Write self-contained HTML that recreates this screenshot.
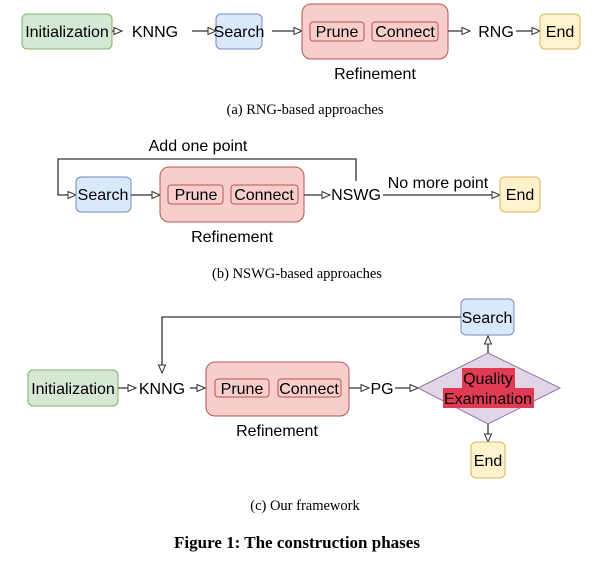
<!DOCTYPE html>
<html><head><meta charset="utf-8"><style>
html,body{margin:0;padding:0;background:#fff;}
svg{display:block;}
.t{font-family:"Liberation Sans",sans-serif;font-size:16px;fill:#000;}
.c{font-family:"Liberation Serif",serif;font-size:14.5px;fill:#000;}
.ln{stroke:#333;stroke-width:1.3;fill:none;}
</style></head><body>
<svg width="609" height="569" viewBox="0 0 609 569" xmlns="http://www.w3.org/2000/svg">
<defs>
<marker id="a" markerWidth="10" markerHeight="10" refX="9" refY="5" orient="auto" markerUnits="userSpaceOnUse">
<path d="M1,1.5 L9,5 L1,8.5 Z" fill="#fff" stroke="#333" stroke-width="1"/>
</marker>
</defs>
<!-- (a) -->
<rect x="22" y="14" width="90" height="35" rx="5" fill="#d5e8d4" stroke="#82b366"/>
<text class="t" x="67" y="37" text-anchor="middle">Initialization</text>
<line class="ln" x1="112" y1="31" x2="122" y2="31" marker-end="url(#a)"/>
<text class="t" x="155" y="37" text-anchor="middle">KNNG</text>
<line class="ln" x1="192" y1="31" x2="216" y2="31" marker-end="url(#a)"/>
<rect x="216" y="14" width="46" height="35" rx="5" fill="#dae8fc" stroke="#6c8ebf"/>
<text class="t" x="239" y="37" text-anchor="middle">Search</text>
<line class="ln" x1="272" y1="31" x2="302" y2="31" marker-end="url(#a)"/>
<rect x="302" y="4" width="146" height="55" rx="9" fill="#f8cecc" stroke="#b85450"/>
<rect x="310" y="22" width="54" height="19" rx="3" fill="#f8cecc" stroke="#b85450"/>
<text class="t" x="337" y="37" text-anchor="middle">Prune</text>
<rect x="372" y="22" width="66" height="19" rx="3" fill="#f8cecc" stroke="#b85450"/>
<text class="t" x="405" y="37" text-anchor="middle">Connect</text>
<line class="ln" x1="448" y1="31" x2="470" y2="31" marker-end="url(#a)"/>
<text class="t" x="496" y="37" text-anchor="middle">RNG</text>
<line class="ln" x1="516" y1="31" x2="540" y2="31" marker-end="url(#a)"/>
<rect x="540" y="14" width="40" height="35" rx="5" fill="#fff2cc" stroke="#d6b656"/>
<text class="t" x="560" y="37" text-anchor="middle">End</text>
<text class="t" x="375" y="79" text-anchor="middle">Refinement</text>
<text class="c" x="305" y="114" text-anchor="middle">(a)  RNG-based approaches</text>
<!-- (b) -->
<path class="ln" d="M356,181 L356,159 L58,159 L58,195 L76,195" marker-end="url(#a)"/>
<text class="t" x="198" y="151" text-anchor="middle">Add one point</text>
<rect x="76" y="177" width="55" height="35" rx="5" fill="#dae8fc" stroke="#6c8ebf"/>
<text class="t" x="103" y="200" text-anchor="middle">Search</text>
<line class="ln" x1="131" y1="195" x2="160" y2="195" marker-end="url(#a)"/>
<rect x="160" y="167" width="144" height="55" rx="9" fill="#f8cecc" stroke="#b85450"/>
<rect x="168" y="185" width="55" height="19" rx="3" fill="#f8cecc" stroke="#b85450"/>
<text class="t" x="196" y="200" text-anchor="middle">Prune</text>
<rect x="231" y="185" width="67" height="19" rx="3" fill="#f8cecc" stroke="#b85450"/>
<text class="t" x="264" y="200" text-anchor="middle">Connect</text>
<line class="ln" x1="304" y1="195" x2="330" y2="195" marker-end="url(#a)"/>
<text class="t" x="356" y="200" text-anchor="middle">NSWG</text>
<line class="ln" x1="383" y1="195" x2="500" y2="195" marker-end="url(#a)"/>
<text class="t" x="438" y="188" text-anchor="middle">No more point</text>
<rect x="500" y="177" width="40" height="35" rx="5" fill="#fff2cc" stroke="#d6b656"/>
<text class="t" x="520" y="200" text-anchor="middle">End</text>
<text class="t" x="232" y="242" text-anchor="middle">Refinement</text>
<text class="c" x="297" y="278" text-anchor="middle">(b)  NSWG-based approaches</text>
<!-- (c) -->
<path class="ln" d="M461,317 L162,317 L162,373" marker-end="url(#a)"/>
<rect x="461" y="299" width="53" height="36" rx="5" fill="#dae8fc" stroke="#6c8ebf"/>
<text class="t" x="487" y="323" text-anchor="middle">Search</text>
<rect x="28" y="370" width="90" height="36" rx="5" fill="#d5e8d4" stroke="#82b366"/>
<text class="t" x="73" y="394" text-anchor="middle">Initialization</text>
<line class="ln" x1="118" y1="388" x2="136" y2="388" marker-end="url(#a)"/>
<text class="t" x="162" y="394" text-anchor="middle">KNNG</text>
<line class="ln" x1="190" y1="388" x2="205" y2="388" marker-end="url(#a)"/>
<rect x="206" y="362" width="143" height="54" rx="9" fill="#f8cecc" stroke="#b85450"/>
<rect x="215" y="379" width="54" height="18" rx="3" fill="#f8cecc" stroke="#b85450"/>
<text class="t" x="242" y="394" text-anchor="middle">Prune</text>
<rect x="278" y="379" width="63" height="18" rx="3" fill="#f8cecc" stroke="#b85450"/>
<text class="t" x="309" y="394" text-anchor="middle">Connect</text>
<line class="ln" x1="349" y1="388" x2="369" y2="388" marker-end="url(#a)"/>
<text class="t" x="382" y="394" text-anchor="middle">PG</text>
<line class="ln" x1="395" y1="388" x2="418" y2="388" marker-end="url(#a)"/>
<polygon points="488,353 560,388 488,424 418,388" fill="#e1d5e7" stroke="#9673a6"/>
<rect x="462" y="368" width="53" height="20" fill="#e13b54"/>
<rect x="443" y="388" width="91" height="20" fill="#e13b54"/>
<text class="t" x="488" y="384" text-anchor="middle">Quality</text>
<text class="t" x="488" y="404" text-anchor="middle">Examination</text>
<line class="ln" x1="488" y1="353" x2="488" y2="336" marker-end="url(#a)"/>
<line class="ln" x1="488" y1="424" x2="488" y2="442" marker-end="url(#a)"/>
<rect x="471" y="442" width="34" height="36" rx="5" fill="#fff2cc" stroke="#d6b656"/>
<text class="t" x="488" y="466" text-anchor="middle">End</text>
<text class="t" x="277" y="436" text-anchor="middle">Refinement</text>
<text class="c" x="305" y="510" text-anchor="middle">(c)  Our framework</text>
<text x="297" y="548" text-anchor="middle" style="font-family:'Liberation Serif',serif;font-size:17px;font-weight:bold">Figure 1: The construction phases</text>
</svg>
</body></html>
